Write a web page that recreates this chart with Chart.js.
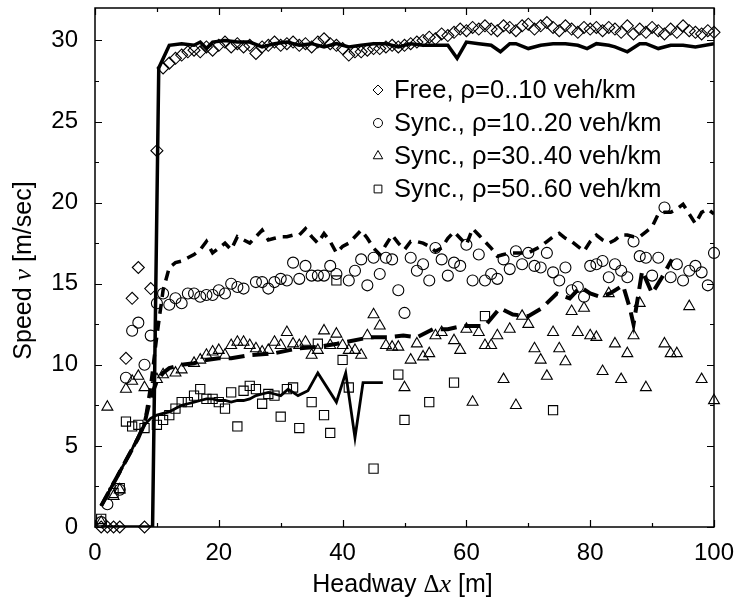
<!DOCTYPE html>
<html>
<head>
<meta charset="utf-8">
<script src="https://cdn.jsdelivr.net/npm/chart.js@4.4.1/dist/chart.umd.min.js"></script>
<style>
  html, body { margin: 0; padding: 0; background: #fff; }
  #wrap { width: 736px; height: 602px; position: relative; }
</style>
</head>
<body>
<div id="wrap"><canvas id="speedChart"></canvas></div>
<script>
/* ---- values ---- */
const seriesLabels = [
    'Free, \u03c1=0..10 veh/km',
    'Sync., \u03c1=10..20 veh/km',
    'Sync., \u03c1=30..40 veh/km',
    'Sync., \u03c1=50..60 veh/km'
];

const xTicks = [0, 20, 40, 60, 80, 100];
const xMinor = [10, 30, 50, 70, 90];
const yTicks = [0, 5, 10, 15, 20, 25, 30];
const yMinor = [2.5, 7.5, 12.5, 17.5, 22.5, 27.5];

// free flow (diamonds)
const freeX = [1,2,3,4,5,6,7,8,9,10,11,12,13,14,15,16,17,18,19,20,21,22,23,24,25,26,27,28,29,30,
    31,32,33,34,35,36,37,38,39,40,41,42,43,44,45,46,47,48,49,50,51,52,53,54,55,56,57,58,59,60,
    61,62,63,64,65,66,67,68,69,70,71,72,73,74,75,76,77,78,79,80,81,82,83,84,85,86,87,88,89,90,
    91,92,93,94,95,96,97,98,99,100];
const freeY = [0,0,0,0,10.4,14.1,16.0,0,14.7,23.2,
    28.3,28.6,28.9,29.1,29.3,29.4,29.3,29.6,29.4,29.7,
    29.9,29.6,29.8,29.6,29.7,29.2,29.6,29.7,29.9,29.7,
    29.8,29.9,29.7,29.8,29.6,29.9,30.1,29.8,29.7,29.5,
    29.1,29.3,29.3,29.4,29.5,29.5,29.6,29.7,29.6,29.7,
    29.8,29.9,30.0,30.2,30.1,30.4,30.3,30.5,30.7,30.6,
    30.8,30.7,30.9,30.7,30.6,30.9,30.8,30.6,30.9,31.0,
    30.7,30.9,31.1,30.8,30.6,30.9,30.7,30.5,30.8,30.7,
    30.8,30.6,30.8,30.7,30.5,30.9,30.4,30.7,30.5,30.8,
    30.6,30.4,30.7,30.5,30.9,30.6,30.5,30.4,30.6,30.5];
const freeLineX = [1,9.3,10.3,12,14,16,17,18,19,21,23,25,27,29,31,33,35,37,39,41,43,45,47,49,51,
    53,55,57,58.5,60,62,64,65.5,67,68,70,72,74,76,78,79.5,81,83,84,86,88,89,91,93,95,97,100];
const freeLineY = [0,0,28.3,29.7,29.8,29.7,29.9,29.5,29.9,30.0,29.9,29.9,29.6,29.8,29.9,29.7,
    29.8,29.6,29.8,29.6,29.7,29.8,29.8,29.6,29.8,29.7,29.7,29.7,28.9,29.9,29.8,29.7,29.3,29.8,
    29.8,29.5,29.7,29.8,29.8,29.7,29.5,29.8,29.7,29.6,29.3,29.8,29.8,29.5,29.7,29.7,29.6,29.8];

// synchronized 10..20 veh/km (circles)
const s10X = [1,2,4,5,6,7,8,9,10,11,12,13,14,15,16,17,18,19,20,21,22,23,24,26,27,28,29,30,31,32,
    33,34,35,36,37,38,39,41,42,43,44,45,46,47,48,49,50,51,52,53,54,55,56,57,58,59,60,61,62,63,
    64,65,66,67,68,69,70,71,72,73,74,75,76,77,78,79,80,81,82,83,84,85,86,87,88,89,90,91,92,93,
    94,95,96,97,98,99,100];
const s10Y = [0.3,1.4,2.3,9.2,12.1,12.6,10.0,11.8,13.8,
    14.4,13.7,14.1,13.8,14.4,14.4,14.2,14.3,14.3,14.6,14.4,15.0,14.8,14.7,
    15.1,15.1,14.7,15.1,15.3,15.2,16.3,15.3,16.1,15.5,15.5,15.5,16.1,15.6,
    15.2,15.8,16.5,14.9,16.6,15.6,16.6,16.5,14.6,13.2,
    16.6,15.8,16.2,15.2,17.2,16.5,15.5,16.3,16.1,17.4,
    15.2,16.8,15.2,15.6,15.3,16.5,15.9,17.0,16.2,16.9,
    16.1,16.0,16.9,15.7,15.2,16.0,14.6,14.8,14.2,16.1,
    16.2,16.4,15.4,16.2,15.8,15.4,17.6,16.7,16.6,15.5,
    16.6,19.7,15.4,16.2,15.2,15.8,16.1,15.7,14.9,16.9];
const s10LineX = freeX;
const s10LineY = [1.3,2.0,2.7,3.4,4.1,4.8,5.5,6.3,8.7,11.8,
    14.6,16.0,16.3,16.4,16.6,16.8,17.1,17.6,16.9,17.2,
    17.5,17.1,17.9,17.7,17.5,17.9,18.3,17.7,17.8,17.9,
    17.9,18.0,18.0,18.4,17.9,17.5,18.1,17.6,16.9,17.3,
    17.5,17.9,18.3,17.8,17.2,16.8,17.4,18.0,17.5,17.1,
    17.6,17.6,17.5,17.3,17.0,17.2,17.8,18.2,17.8,17.4,
    18.4,18.0,17.6,17.2,16.7,16.8,16.9,16.9,16.9,16.9,
    17.1,17.3,17.6,17.9,18.1,17.8,17.6,17.3,17.0,17.6,
    18.0,17.7,17.5,17.7,18.0,18.0,17.9,17.9,18.2,18.5,
    19.3,19.4,19.4,19.6,19.9,19.3,18.7,19.4,19.6,19.3];

// synchronized 30..40 veh/km (triangles)
const s30X = [1,2,3,4,5,6,7,8,10,11,13,14,16,17,18,19,20,21,22,23,24,25,26,27,28,29,30,31,32,33,
    34,35,36,37,38,39,40,41,42,43,44,45,46,47,48,49,50,51,52,53,54,55,56,58,59,60,61,62,63,64,
    65,66,67,68,69,70,71,72,73,74,75,76,77,78,79,80,81,82,83,84,85,86,87,88,89,92,93,94,96,98,100];
const s30Y = [0.3,7.4,1.9,2.3,8.5,9.0,9.3,8.6,9.1,9.4,9.5,9.7,
    10.1,10.3,10.6,10.8,10.9,10.6,11.2,11.4,11.4,11.2,
    11.0,10.8,10.9,11.4,11.2,12.0,11.3,11.2,11.4,10.6,
    10.9,12.1,11.2,11.9,11.2,10.9,10.9,10.6,11.8,13.1,
    12.4,11.2,11.1,11.1,8.6,10.3,11.3,10.5,10.7,11.8,12.0,
    11.5,10.9,12.2,7.7,12.0,11.2,11.2,11.8,9.1,12.2,
    7.5,13.0,12.5,11.0,10.3,9.3,12.0,11.0,10.2,13.3,
    12.0,13.5,11.8,11.7,9.6,14.4,11.3,9.1,10.7,11.8,13.8,8.6,
    11.3,10.7,10.7,13.6,9.1,7.8];
const s30LineX = [1,2,3,4,5,6,7,8,9,10,11,12,14,16,18,20,22,25,28.8,32.6,35.9,39.1,44.4,47.2,49.8,
    52,54.6,57,59.5,61.7,63,65.4,67.5,70,72.2,74.6,76.7,78.4,80,81.6,83.2,85.3,86.4,87,88.4,90,91.6,93.2];
const s30LineY = [1.3,2.0,2.7,3.4,4.1,4.8,5.5,6.4,8.0,9.0,9.5,9.8,10.0,10.1,10.3,10.4,10.4,10.6,
    10.7,11.0,11.1,11.3,11.7,11.7,11.8,11.7,12.2,12.2,12.4,12.4,12.4,13.5,13.1,13.0,13.5,14.4,
    14.1,14.8,14.4,14.2,14.4,14.9,13.5,12.5,15.8,14.4,15.4,16.5];

// synchronized 50..60 veh/km (squares)
const s50X = [1,3,4,5,6,7,8,10,11,12,13,14,15,16,17,18,19,20,21,22,23,24,25,26,27,28,29,30,31,32,
    33,35,36,37,38,39,40,41,45,49,50,54,58,63,74];
const s50Y = [0.5,2.1,2.4,6.5,6.2,6.3,6.1,6.3,6.6,6.9,7.3,7.7,7.7,8.1,8.5,7.9,7.9,7.7,7.3,8.3,
    6.2,8.4,8.7,8.5,7.6,8.2,8.1,6.8,8.5,8.6,6.1,7.7,11.3,6.9,5.8,15.2,10.3,8.6,3.6,9.4,6.6,7.7,
    8.9,13.0,7.2];
const s50LineX = [1,2,3,4,5,6,7,8,9,10,11,12,13,14,15,16,17,18,19,20,21,22,23,24,25,26,27,28,29,30,
    31.2,32.8,34.4,36,39,40.5,42,43.3,46.5];
const s50LineY = [1.3,2.0,2.7,3.4,4.1,4.8,5.6,6.3,6.7,6.9,7.0,7.1,7.3,7.5,7.6,7.7,7.8,7.9,7.9,7.8,
    7.8,7.7,7.8,7.8,7.9,8.1,8.2,8.3,8.2,8.1,8.5,8.1,8.4,9.5,7.7,9.5,5.5,8.9,8.9];

/* ---- chart ---- */
const SANS = "'Liberation Sans', Arial, sans-serif";
const SERIF = "'Liberation Serif', 'Times New Roman', serif";
const NONE = 'rgba(0,0,0,0)';

function pts(xs, ys) {
    return xs.map((x, i) => ({ x: x, y: ys[i] }));
}

function markers(label, xs, ys, style, radius) {
    return {
        label: label,
        data: pts(xs, ys),
        showLine: false,
        pointStyle: style,
        pointRadius: radius,
        pointBorderWidth: 1.1,
        pointBorderColor: '#000',
        pointBackgroundColor: NONE,
        clip: false,
        legendRow: true
    };
}

function curve(xs, ys, width, dash) {
    return {
        data: pts(xs, ys),
        showLine: true,
        borderColor: '#000',
        borderWidth: width,
        borderDash: dash,
        pointRadius: 0,
        tension: 0,
        fill: false
    };
}

function drawRich(ctx, parts, cx, cy) {
    let total = 0;
    parts.forEach(p => { ctx.font = p.font; p.w = ctx.measureText(p.text).width; total += p.w; });
    let xx = cx - total / 2;
    ctx.textAlign = 'left';
    ctx.textBaseline = 'alphabetic';
    parts.forEach(p => { ctx.font = p.font; ctx.fillText(p.text, xx, cy); xx += p.w; });
}

const framePlugin = {
    id: 'framePlugin',
    afterDatasetsDraw(chart) {
        const { ctx, chartArea: a, scales } = chart;
        const x = scales.x, y = scales.y;
        ctx.save();
        ctx.strokeStyle = '#000';
        ctx.lineWidth = 1.5;
        ctx.strokeRect(a.left, a.top, a.right - a.left, a.bottom - a.top);

        // inward tick marks on all four sides
        ctx.lineWidth = 1.2;
        ctx.beginPath();
        const xMarks = xTicks.map(v => [v, 7]).concat(xMinor.map(v => [v, 4]));
        xMarks.forEach(([v, len]) => {
            const px = Math.round(x.getPixelForValue(v)) + 0.5;
            ctx.moveTo(px, a.bottom); ctx.lineTo(px, a.bottom - len);
            ctx.moveTo(px, a.top); ctx.lineTo(px, a.top + len);
        });
        const yMarks = yTicks.map(v => [v, 7]).concat(yMinor.map(v => [v, 4]));
        yMarks.forEach(([v, len]) => {
            const py = Math.round(y.getPixelForValue(v)) + 0.5;
            ctx.moveTo(a.left, py); ctx.lineTo(a.left + len, py);
            ctx.moveTo(a.right, py); ctx.lineTo(a.right - len, py);
        });
        ctx.stroke();

        // legend inside the plot
        ctx.font = '25.5px ' + SANS;
        ctx.textAlign = 'left';
        ctx.textBaseline = 'middle';
        const legendSizes = { rectRot: 5, circle: 4.5, triangle: 5.5, rect: 5.5 };
        let row = 0;
        chart.data.datasets.forEach(ds => {
            if (!ds.legendRow) return;
            const cy = 90 + row * 33;
            ctx.strokeStyle = '#000';
            ctx.fillStyle = NONE;
            ctx.lineWidth = 1;
            Chart.helpers.drawPoint(ctx, {
                pointStyle: ds.pointStyle,
                radius: legendSizes[ds.pointStyle],
                rotation: 0,
                borderWidth: 1
            }, 378, cy);
            ctx.fillStyle = '#000';
            ctx.fillText(ds.label, 394, cy + 1);
            row++;
        });

        // axis titles
        ctx.fillStyle = '#000';
        drawRich(ctx, [
            { text: 'Headway ', font: '25px ' + SANS },
            { text: '\u0394', font: '25px ' + SERIF },
            { text: 'x', font: 'italic 26px ' + SERIF },
            { text: ' [m]', font: '25px ' + SANS }
        ], (a.left + a.right) / 2 - 2, 592);

        ctx.translate(31, (a.top + a.bottom) / 2 + 3);
        ctx.rotate(-Math.PI / 2);
        drawRich(ctx, [
            { text: 'Speed ', font: '25px ' + SANS },
            { text: '\u03bd', font: 'italic 26px ' + SERIF },
            { text: ' [m/sec]', font: '25px ' + SANS }
        ], 0, 0);
        ctx.restore();
    }
};

new Chart(document.getElementById('speedChart'), {
    type: 'scatter',
    data: {
        datasets: [
            curve(freeLineX, freeLineY, 3.5, []),
            curve(s10LineX, s10LineY, 3.5, [10, 7]),
            curve(s30LineX, s30LineY, 4, [16, 8]),
            curve(s50LineX, s50LineY, 2.8, []),
            markers(seriesLabels[0], freeX, freeY, 'rectRot', 6),
            markers(seriesLabels[1], s10X, s10Y, 'circle', 5.5),
            markers(seriesLabels[2], s30X, s30Y, 'triangle', 6.3),
            markers(seriesLabels[3], s50X, s50Y, 'rect', 6.5)
        ]
    },
    options: {
        responsive: true,
        maintainAspectRatio: false,
        animation: false,
        events: [],
        layout: { padding: { top: 8, right: 22, left: 0, bottom: 0 } },
        plugins: {
            legend: { display: false },
            tooltip: { enabled: false },
            title: { display: false }
        },
        scales: {
            x: {
                type: 'linear',
                min: 0,
                max: 100,
                afterBuildTicks: scale => { scale.ticks = xTicks.map(v => ({ value: v })); },
                afterFit: scale => { scale.height = 75; scale.paddingLeft = 0; scale.paddingRight = 0; },
                grid: { display: false, drawTicks: false },
                border: { display: false },
                ticks: { color: '#000', padding: 12, font: { family: SANS, size: 24 } }
            },
            y: {
                type: 'linear',
                min: 0,
                max: 32,
                afterBuildTicks: scale => { scale.ticks = yTicks.map(v => ({ value: v })); },
                afterFit: scale => { scale.width = 95; scale.paddingTop = 0; scale.paddingBottom = 0; },
                grid: { display: false, drawTicks: false },
                border: { display: false },
                ticks: { color: '#000', padding: 17, font: { family: SANS, size: 24 } }
            }
        }
    },
    plugins: [framePlugin]
});
</script>
</body>
</html>
